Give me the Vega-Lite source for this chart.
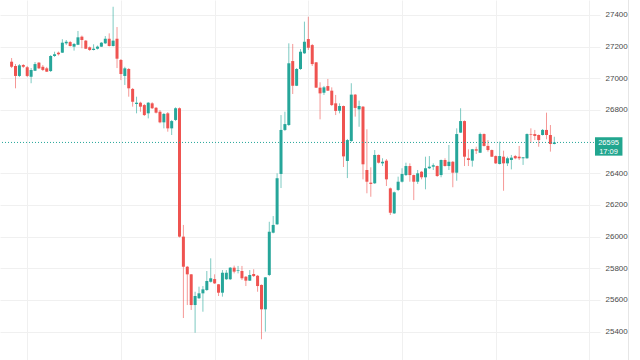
{
  "$schema": "https://vega.github.io/schema/vega-lite/v6.json",
  "width": 600,
  "height": 360,
  "autosize": {"type": "none"},
  "padding": {"left": 0, "top": 0, "right": 40, "bottom": 0},
  "background": "white",
  "config": {"view": {"stroke": null}, "font": "Liberation Sans"},
  "datasets": {
    "candles": [
      {"i":1,"o":27105,"h":27128,"l":27065,"c":27073},
      {"i":2,"o":27078,"h":27090,"l":26937,"c":27015},
      {"i":3,"o":27015,"h":27090,"l":27008,"c":27082},
      {"i":4,"o":27084,"h":27090,"l":27065,"c":27073},
      {"i":5,"o":27070,"h":27078,"l":27008,"c":27015},
      {"i":6,"o":27010,"h":27065,"l":26969,"c":27053},
      {"i":7,"o":27048,"h":27103,"l":27046,"c":27090},
      {"i":8,"o":27099,"h":27103,"l":27059,"c":27063},
      {"i":9,"o":27073,"h":27084,"l":27046,"c":27053},
      {"i":10,"o":27063,"h":27072,"l":27040,"c":27042},
      {"i":11,"o":27046,"h":27147,"l":27040,"c":27141},
      {"i":12,"o":27141,"h":27168,"l":27135,"c":27152},
      {"i":13,"o":27162,"h":27169,"l":27144,"c":27152},
      {"i":14,"o":27162,"h":27247,"l":27160,"c":27225},
      {"i":15,"o":27221,"h":27242,"l":27211,"c":27231},
      {"i":16,"o":27229,"h":27236,"l":27201,"c":27204},
      {"i":17,"o":27200,"h":27223,"l":27175,"c":27217},
      {"i":18,"o":27212,"h":27299,"l":27210,"c":27259},
      {"i":19,"o":27263,"h":27270,"l":27190,"c":27242},
      {"i":20,"o":27238,"h":27242,"l":27185,"c":27187},
      {"i":21,"o":27196,"h":27201,"l":27173,"c":27179},
      {"i":22,"o":27179,"h":27215,"l":27176,"c":27187},
      {"i":23,"o":27187,"h":27207,"l":27182,"c":27200},
      {"i":24,"o":27200,"h":27229,"l":27198,"c":27225},
      {"i":25,"o":27221,"h":27267,"l":27217,"c":27250},
      {"i":26,"o":27250,"h":27284,"l":27201,"c":27204},
      {"i":27,"o":27204,"h":27452,"l":27201,"c":27238},
      {"i":28,"o":27250,"h":27324,"l":27065,"c":27124},
      {"i":29,"o":27116,"h":27122,"l":26989,"c":27027},
      {"i":30,"o":27015,"h":27073,"l":26958,"c":27063},
      {"i":31,"o":27059,"h":27065,"l":26884,"c":26937},
      {"i":32,"o":26933,"h":26939,"l":26821,"c":26852},
      {"i":33,"o":26838,"h":26884,"l":26779,"c":26846},
      {"i":34,"o":26846,"h":26852,"l":26789,"c":26821},
      {"i":35,"o":26831,"h":26838,"l":26762,"c":26768},
      {"i":36,"o":26779,"h":26850,"l":26747,"c":26846},
      {"i":37,"o":26842,"h":26849,"l":26806,"c":26811},
      {"i":38,"o":26814,"h":26819,"l":26778,"c":26783},
      {"i":39,"o":26789,"h":26800,"l":26716,"c":26722},
      {"i":40,"o":26722,"h":26781,"l":26684,"c":26775},
      {"i":41,"o":26779,"h":26787,"l":26663,"c":26684},
      {"i":42,"o":26684,"h":26737,"l":26642,"c":26730},
      {"i":43,"o":26737,"h":26817,"l":26730,"c":26811},
      {"i":44,"o":26811,"h":26816,"l":25995,"c":26000},
      {"i":45,"o":26000,"h":26074,"l":25486,"c":25810},
      {"i":46,"o":25810,"h":25815,"l":25568,"c":25762},
      {"i":47,"o":25762,"h":25764,"l":25537,"c":25568},
      {"i":48,"o":25568,"h":25652,"l":25393,"c":25625},
      {"i":49,"o":25611,"h":25684,"l":25606,"c":25642},
      {"i":50,"o":25642,"h":25688,"l":25526,"c":25667},
      {"i":51,"o":25663,"h":25783,"l":25657,"c":25720},
      {"i":52,"o":25715,"h":25863,"l":25710,"c":25737},
      {"i":53,"o":25732,"h":25762,"l":25701,"c":25705},
      {"i":54,"o":25699,"h":25701,"l":25625,"c":25646},
      {"i":55,"o":25646,"h":25789,"l":25621,"c":25772},
      {"i":56,"o":25731,"h":25789,"l":25726,"c":25772},
      {"i":57,"o":25731,"h":25808,"l":25726,"c":25804},
      {"i":58,"o":25804,"h":25817,"l":25768,"c":25779},
      {"i":59,"o":25783,"h":25815,"l":25768,"c":25787},
      {"i":60,"o":25783,"h":25815,"l":25726,"c":25737},
      {"i":61,"o":25747,"h":25751,"l":25688,"c":25722},
      {"i":62,"o":25722,"h":25789,"l":25720,"c":25758},
      {"i":63,"o":25764,"h":25794,"l":25745,"c":25751},
      {"i":64,"o":25753,"h":25758,"l":25652,"c":25688},
      {"i":65,"o":25695,"h":25698,"l":25352,"c":25541},
      {"i":66,"o":25541,"h":25745,"l":25400,"c":25743},
      {"i":67,"o":25758,"h":26094,"l":25751,"c":26031},
      {"i":68,"o":26025,"h":26130,"l":26021,"c":26074},
      {"i":69,"o":26078,"h":26400,"l":26074,"c":26369},
      {"i":70,"o":26396,"h":26768,"l":26307,"c":26674},
      {"i":71,"o":26674,"h":26789,"l":26667,"c":26711},
      {"i":72,"o":26705,"h":27221,"l":26699,"c":27095},
      {"i":73,"o":27109,"h":27217,"l":26901,"c":26953},
      {"i":74,"o":26953,"h":27065,"l":26951,"c":27059},
      {"i":75,"o":27059,"h":27185,"l":27053,"c":27168},
      {"i":76,"o":27158,"h":27358,"l":27154,"c":27231},
      {"i":77,"o":27248,"h":27389,"l":27179,"c":27193},
      {"i":78,"o":27210,"h":27217,"l":27078,"c":27090},
      {"i":79,"o":27101,"h":27103,"l":26939,"c":26941},
      {"i":80,"o":26941,"h":26975,"l":26741,"c":26905},
      {"i":81,"o":26909,"h":26952,"l":26895,"c":26943},
      {"i":82,"o":26951,"h":26996,"l":26920,"c":26922},
      {"i":83,"o":26922,"h":26943,"l":26825,"c":26831},
      {"i":84,"o":26842,"h":26895,"l":26768,"c":26794},
      {"i":85,"o":26795,"h":26842,"l":26779,"c":26825},
      {"i":86,"o":26825,"h":26828,"l":26440,"c":26507},
      {"i":87,"o":26478,"h":26617,"l":26370,"c":26610},
      {"i":88,"o":26604,"h":26969,"l":26598,"c":26897},
      {"i":89,"o":26897,"h":26901,"l":26758,"c":26813},
      {"i":90,"o":26804,"h":26859,"l":26694,"c":26825},
      {"i":91,"o":26821,"h":26825,"l":26362,"c":26457},
      {"i":92,"o":26421,"h":26678,"l":26274,"c":26347},
      {"i":93,"o":26341,"h":26438,"l":26252,"c":26333},
      {"i":94,"o":26337,"h":26547,"l":26333,"c":26516},
      {"i":95,"o":26516,"h":26519,"l":26462,"c":26467},
      {"i":96,"o":26463,"h":26495,"l":26446,"c":26473},
      {"i":97,"o":26480,"h":26490,"l":26320,"c":26362},
      {"i":98,"o":26305,"h":26310,"l":26137,"c":26151},
      {"i":99,"o":26147,"h":26285,"l":26143,"c":26280},
      {"i":100,"o":26295,"h":26379,"l":26288,"c":26347},
      {"i":101,"o":26347,"h":26432,"l":26342,"c":26396},
      {"i":102,"o":26389,"h":26467,"l":26383,"c":26446},
      {"i":103,"o":26446,"h":26463,"l":26347,"c":26389},
      {"i":104,"o":26389,"h":26392,"l":26231,"c":26347},
      {"i":105,"o":26347,"h":26421,"l":26333,"c":26400},
      {"i":106,"o":26410,"h":26415,"l":26362,"c":26375},
      {"i":107,"o":26375,"h":26505,"l":26299,"c":26432},
      {"i":108,"o":26432,"h":26509,"l":26427,"c":26442},
      {"i":109,"o":26442,"h":26463,"l":26421,"c":26451},
      {"i":110,"o":26446,"h":26449,"l":26377,"c":26383},
      {"i":111,"o":26389,"h":26487,"l":26375,"c":26484},
      {"i":112,"o":26484,"h":26495,"l":26443,"c":26446},
      {"i":113,"o":26446,"h":26579,"l":26421,"c":26473},
      {"i":114,"o":26473,"h":26478,"l":26312,"c":26404},
      {"i":115,"o":26404,"h":26684,"l":26353,"c":26648},
      {"i":116,"o":26657,"h":26811,"l":26655,"c":26730},
      {"i":117,"o":26730,"h":26734,"l":26446,"c":26505},
      {"i":118,"o":26495,"h":26552,"l":26446,"c":26484},
      {"i":119,"o":26480,"h":26554,"l":26442,"c":26552},
      {"i":120,"o":26552,"h":26568,"l":26522,"c":26543},
      {"i":121,"o":26530,"h":26657,"l":26528,"c":26648},
      {"i":122,"o":26648,"h":26652,"l":26569,"c":26573},
      {"i":123,"o":26573,"h":26610,"l":26537,"c":26547},
      {"i":124,"o":26547,"h":26550,"l":26503,"c":26505},
      {"i":125,"o":26509,"h":26513,"l":26459,"c":26463},
      {"i":126,"o":26459,"h":26600,"l":26456,"c":26509},
      {"i":127,"o":26505,"h":26543,"l":26290,"c":26463},
      {"i":128,"o":26463,"h":26505,"l":26446,"c":26495},
      {"i":129,"o":26484,"h":26516,"l":26425,"c":26499},
      {"i":130,"o":26509,"h":26516,"l":26489,"c":26495},
      {"i":131,"o":26505,"h":26573,"l":26484,"c":26495},
      {"i":132,"o":26495,"h":26503,"l":26453,"c":26501},
      {"i":133,"o":26495,"h":26652,"l":26492,"c":26648},
      {"i":134,"o":26648,"h":26684,"l":26593,"c":26644},
      {"i":135,"o":26648,"h":26674,"l":26610,"c":26636},
      {"i":136,"o":26642,"h":26645,"l":26568,"c":26610},
      {"i":137,"o":26642,"h":26680,"l":26639,"c":26674},
      {"i":138,"o":26674,"h":26783,"l":26615,"c":26642},
      {"i":139,"o":26642,"h":26705,"l":26537,"c":26585},
      {"i":140,"o":26585,"h":26631,"l":26583,"c":26595}
    ],
    "last": [{"price": 26595, "time": "17:09"}]
  },
  "layer": [
    {
      "data": {"name": "candles"},
      "mark": {"type": "rule", "strokeWidth": 1, "strokeOpacity": 0.6},
      "encoding": {
        "x": {"field": "i", "type": "quantitative",
              "scale": {"domain": [-0.69, 150.42], "nice": false, "zero": false},
              "axis": {"values": [5, 29, 53, 77, 101, 125, 149], "tickCount": 20, "grid": true, "gridColor": "#f0f0f0", "labels": false, "ticks": false, "domain": false, "title": null}},
        "y": {"field": "l", "type": "quantitative",
              "scale": {"domain": [25220.9, 27494.7], "nice": false, "zero": false},
              "axis": {"orient": "right", "values": [25400, 25600, 25800, 26000, 26200, 26400, 26800, 27000, 27200, 27400],
                       "tickCount": 20, "format": "d", "grid": true, "gridColor": "#f0f0f0", "ticks": false, "domain": false, "title": null,
                       "labelOverlap": false, "labelFontSize": 8, "labelColor": "#4a4a4a", "labelPadding": 5, "labelFont": "Liberation Sans"}},
        "y2": {"field": "h"},
        "color": {"condition": {"test": "datum.c >= datum.o", "value": "#26a69a"}, "value": "#ef5350"}
      }
    },
    {
      "data": {"name": "candles"},
      "mark": {"type": "bar", "size": 3},
      "encoding": {
        "x": {"field": "i", "type": "quantitative"},
        "y": {"field": "o", "type": "quantitative"},
        "y2": {"field": "c"},
        "color": {"condition": {"test": "datum.c >= datum.o", "value": "#26a69a"}, "value": "#ef5350"}
      }
    },
    {
      "data": {"name": "last"},
      "mark": {"type": "rule", "color": "#26a69a", "strokeDash": [1, 2], "strokeWidth": 1},
      "encoding": {
        "y": {"field": "price", "type": "quantitative"}
      }
    },
    {
      "data": {"name": "last"},
      "mark": {"type": "rule", "color": "#e6e6e6", "strokeWidth": 1, "clip": false},
      "encoding": {
        "x": {"datum": 159.0, "type": "quantitative"}
      }
    },
    {
      "data": {"name": "last"},
      "mark": {"type": "rect", "color": "#22a68f", "yOffset": -5.2, "y2Offset": 13.2, "clip": false},
      "encoding": {
        "x": {"datum": 150.42, "type": "quantitative"},
        "x2": {"datum": 157.45},
        "y": {"field": "price", "type": "quantitative"},
        "y2": {"field": "price"}
      }
    },
    {
      "data": {"name": "last"},
      "mark": {"type": "text", "color": "white", "fontSize": 7.5, "font": "Liberation Sans", "align": "center", "baseline": "middle", "yOffset": 0.8, "clip": false},
      "encoding": {
        "x": {"datum": 153.9, "type": "quantitative"},
        "y": {"field": "price", "type": "quantitative"},
        "text": {"field": "price", "type": "quantitative", "format": "d"}
      }
    },
    {
      "data": {"name": "last"},
      "mark": {"type": "text", "color": "white", "fontSize": 7.5, "font": "Liberation Sans", "align": "center", "baseline": "middle", "yOffset": 9.2, "clip": false},
      "encoding": {
        "x": {"datum": 153.9, "type": "quantitative"},
        "y": {"field": "price", "type": "quantitative"},
        "text": {"field": "time"}
      }
    }
  ]
}
